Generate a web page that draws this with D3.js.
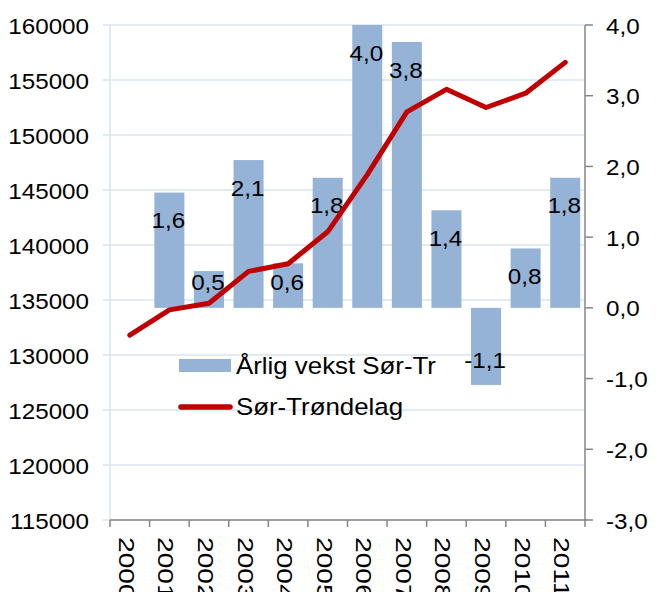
<!DOCTYPE html>
<html><head><meta charset="utf-8">
<script src="https://cdn.jsdelivr.net/npm/d3@7"></script>
<style>
html,body{margin:0;padding:0;background:#fff;}
svg{display:block;font-family:"Liberation Sans",Arial,sans-serif;}
</style></head>
<body>
<svg id="c" width="656" height="592"></svg>
<script>
const years = ["2000","2001","2002","2003","2004","2005","2006","2007","2008","2009","2010","2011"];
const growth = [null,1.63,0.52,2.09,0.63,1.84,4.0,3.76,1.38,-1.09,0.84,1.84];
const population = [131800,134100,134700,137600,138300,141200,146400,152100,154150,152500,153800,156600];
const leftTicks = [115000,120000,125000,130000,135000,140000,145000,150000,155000,160000];
const rightTicks = [-3,-2,-1,0,1,2,3,4];
const seriesNames = ["Årlig vekst Sør-Tr","Sør-Trøndelag"];

const svg = d3.select("#c");
const L = 110, R = 585, T = 25, B = 520;
const SX = 1.1;
const FS = 22;
const gridColor = "#d9e3f1", axisColor = "#868686";
const barColor = "#95b3d7", lineColor = "#c00000";

const x = d3.scaleBand().domain(years).range([L, R]).paddingInner(0.242).paddingOuter(0.121);
const step = x.step();
const yL = d3.scaleLinear().domain([115000,160000]).range([B, T]);
const yR = d3.scaleLinear().domain([-3,4]).range([B, T]);

function txt(g, s, px, py, anchor, tf) {
  const gg = g.append("g").attr("transform", `translate(${px},${py}) ` + (tf || `scale(${SX},1)`));
  return gg.append("text").attr("text-anchor", anchor).attr("dominant-baseline","central")
    .attr("font-size", FS).attr("fill","#000").text(s);
}

// gridlines (left axis)
const grid = svg.append("g");
leftTicks.forEach(v => {
  grid.append("line").attr("x1", L-7).attr("x2", R).attr("y1", yL(v)).attr("y2", yL(v))
    .attr("stroke", gridColor).attr("stroke-width", 1.5);
});
grid.append("line").attr("x1", L).attr("x2", L).attr("y1", T).attr("y2", B)
  .attr("stroke", gridColor).attr("stroke-width", 1.5);

// left tick labels
const lt = svg.append("g");
leftTicks.forEach(v => txt(lt, String(v), 89, yL(v)+1, "end"));

// right axis
const ra = svg.append("g");
ra.append("line").attr("x1", R).attr("x2", R).attr("y1", T).attr("y2", B).attr("stroke", axisColor).attr("stroke-width", 1.5);
rightTicks.forEach(v => {
  ra.append("line").attr("x1", R).attr("x2", R+8).attr("y1", yR(v)).attr("y2", yR(v)).attr("stroke", axisColor).attr("stroke-width", 1.5);
  txt(ra, d3.format(".1f")(v).replace(".", ",").replace("−","-"), 606, yR(v)+1, "start");
});

// bars
const bars = svg.append("g");
years.forEach((yr, i) => {
  const v = growth[i];
  if (v == null) return;
  const y0 = yR(0), y1 = yR(v);
  bars.append("rect").attr("x", x(yr)).attr("width", x.bandwidth())
    .attr("y", Math.min(y0,y1)).attr("height", Math.abs(y1-y0)).attr("fill", barColor);
});

// bottom axis
const ba = svg.append("g");
ba.append("line").attr("x1", L).attr("x2", R+2).attr("y1", B).attr("y2", B).attr("stroke", axisColor).attr("stroke-width", 1.5);
d3.range(years.length+1).forEach(i => {
  const px = L + i*step;
  ba.append("line").attr("x1", px).attr("x2", px).attr("y1", B).attr("y2", B+7).attr("stroke", axisColor).attr("stroke-width", 1.5);
});
years.forEach(yr => {
  const cx = x(yr) + x.bandwidth()/2 - 3;
  txt(ba, yr, cx, 537, "start", "rotate(90) scale(1.28,1.04)");
});

// data labels
const dl = svg.append("g");
years.forEach((yr, i) => {
  const v = growth[i];
  if (v == null) return;
  const y0 = yR(0), y1 = yR(v);
  let cy = v >= 0 ? Math.min(y1 + 28, y0 - 25) : Math.max(y1 - 25, y0 + 25);
  const lab = d3.format(".1f")(v).replace(".", ",").replace("−","-");
  txt(dl, lab, x(yr) + x.bandwidth()/2 - 1, cy, "middle");
});

// line
const line = d3.line().x((d,i) => x(years[i]) + x.bandwidth()/2).y(d => yL(d));
svg.append("path").datum(population).attr("d", line).attr("fill","none")
  .attr("stroke", lineColor).attr("stroke-width", 5).attr("stroke-linecap","round").attr("stroke-linejoin","round");

// legend
const lg = svg.append("g");
lg.append("rect").attr("x", 179).attr("y", 359).attr("width", 52).attr("height", 13).attr("fill", barColor);
lg.append("line").attr("x1", 181).attr("x2", 230).attr("y1", 407).attr("y2", 407)
  .attr("stroke", lineColor).attr("stroke-width", 5.5).attr("stroke-linecap","round");
const t1 = txt(lg, seriesNames[0], 236, 366, "start"); t1.attr("font-size", 23.5);
const t2 = txt(lg, seriesNames[1], 236, 407, "start"); t2.attr("font-size", 23.5);
</script>
</body></html>
